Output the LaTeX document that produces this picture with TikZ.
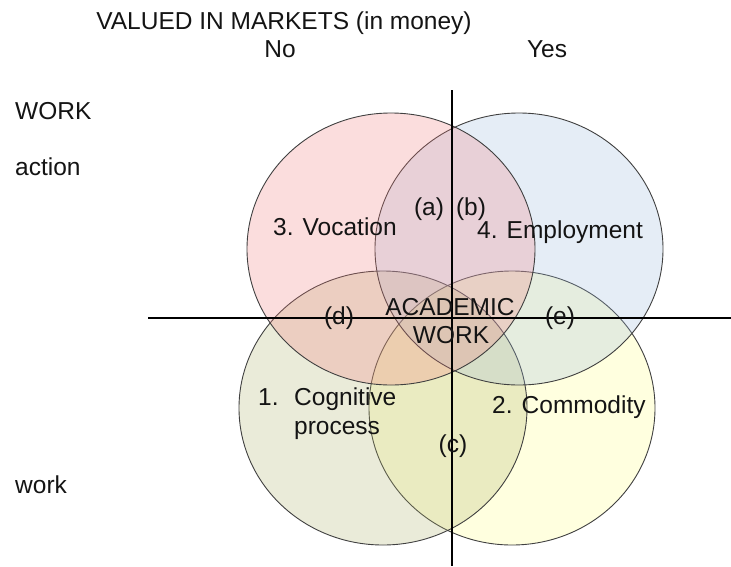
\documentclass[tikz,border=0pt]{standalone}
\usepackage{fontspec}
\setmainfont{Liberation Sans}
\definecolor{vocc}{RGB}{243,123,123}
\definecolor{empc}{RGB}{155,187,223}
\definecolor{cogc}{RGB}{175,179,107}
\definecolor{comc}{RGB}{255,255,131}
\begin{document}
\begin{tikzpicture}[x=1pt,y=-1pt,
  lbl/.style={inner sep=0pt, font=\fontsize{24.5}{29}\selectfont, text=black!92},
  venn/.style={draw=black!75, line width=0.9pt, fill opacity=0.25, draw opacity=1},
  axisline/.style={draw=black, line width=1.2pt}]
\useasboundingbox (0,0) rectangle (731,566);
\fill[white] (0,0) rectangle (731,566);
% ellipses
\path[venn, fill=comc] (512,408) ellipse [x radius=143pt, y radius=137pt];
\path[venn, fill=cogc] (383,408) ellipse [x radius=144pt, y radius=137pt];
\path[venn, fill=empc] (519,249) ellipse [x radius=144pt, y radius=136pt];
\path[venn, fill=vocc] (391,249) ellipse [x radius=144pt, y radius=136pt];
% axes
\coordinate (vtop) at (452,90);
\coordinate (vbot) at (452,566);
\coordinate (hleft) at (148,318);
\coordinate (hright) at (731,318);
\draw[axisline] (vtop) -- (vbot);
\draw[axisline] (hleft) -- (hright);
% outer labels
\node[lbl, anchor=base] (title) at (284,29) {VALUED IN MARKETS (in money)};
\node[lbl, anchor=base] (no) at (280,57) {No};
\node[lbl, anchor=base] (yes) at (547,57) {Yes};
\node[lbl, anchor=base west] (workcap) at (15,119) {WORK};
\node[lbl, anchor=base west] (action) at (15,175) {action};
\node[lbl, anchor=base west] (worklow) at (15,493) {work};
% inner labels
\node[lbl, anchor=base west] (voc) at (273,235) {3. Vocation};
\node[lbl, anchor=base] (la) at (429,215) {(a)};
\node[lbl, anchor=base] (lb) at (471,215) {(b)};
\node[lbl, anchor=base west] (emp) at (477,238) {4. Employment};
\node[lbl, anchor=base] (ld) at (339,324) {(d)};
\node[lbl, anchor=base] (le) at (560,324) {(e)};
\node[lbl, anchor=base] (acad1) at (450,315) {ACADEMIC};
\node[lbl, anchor=base] (acad2) at (451,343) {WORK};
\node[lbl, anchor=base west] (cognum) at (258,405) {1.};
\node[lbl, anchor=base west] (cog1) at (294,405) {Cognitive};
\node[lbl, anchor=base west] (cog2) at (294,434) {process};
\node[lbl, anchor=base west] (com) at (492,413) {2. Commodity};
\node[lbl, anchor=base] (lc) at (453,452) {(c)};
\end{tikzpicture}
\end{document}
